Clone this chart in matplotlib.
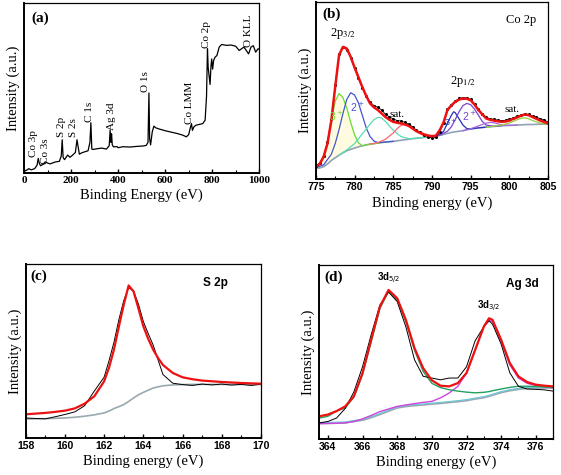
import matplotlib
matplotlib.use("Agg")
import matplotlib.pyplot as plt
from matplotlib.ticker import MultipleLocator

SERIF = "Liberation Serif"
SANS = "Liberation Sans"

# ---------- (a) survey ----------
a_x = [0, 10, 20, 30, 45, 55, 60, 65, 70, 80, 90, 100, 110, 120, 135, 150, 158, 162, 166, 172,
       185, 195, 205, 218, 225, 229, 235, 245, 260, 272, 280, 284, 288, 295, 310, 330, 350,
       362, 366, 369, 372, 375, 380, 395, 400, 420, 450, 480, 505, 520, 527, 531, 534, 538,
       545, 552, 560, 575, 600, 625, 650, 675, 690, 700, 707, 712, 716, 722, 730, 745, 760,
       770, 776, 780, 783, 787, 791, 795, 798, 802, 806, 812, 820, 830, 840, 860, 880, 900,
       915, 925, 935, 945, 955, 965, 975, 985, 995, 1000]
a_y = [1.2, 1.5, 2.5, 1.8, 2.5, 4.5, 8.5, 5.5, 4.2, 5.0, 6.5, 5.8, 5.3, 5.8, 6.5, 6.8, 10, 19.5, 9, 7.8,
       10.5, 9.2, 10.3, 12, 19.5, 16, 11, 11.8, 12.5, 13, 18, 29.5, 14, 13.8, 14.2, 14.6, 14.0,
       16, 25.3, 18, 23, 16.5, 15.3, 15.5, 14.8, 15.4, 15.2, 15.6, 15.8, 16.2, 18, 47, 20, 16.5,
       24, 27.5, 26.5, 25.8, 24.8, 24.0, 23.2, 22.2, 21.2, 22.5, 26.5, 29, 25, 27, 28, 28.5, 29,
       31, 45, 73, 62, 57, 52, 63, 67, 61, 66, 68, 69, 74, 75.5, 75, 75.2, 74.5,
       72, 73, 74, 72, 70, 74, 74.8, 71, 73, 72.7]

a_lbl = ["Co 3p", "Co 3s", "S 2p", "S 2s", "C 1s", "Ag 3d", "O 1s", "Co LMM", "Co 2p", "O KLL"]
a_lbl_x = [42, 90, 157, 212, 279, 372, 516, 703, 776, 953]
a_lbl_y = [9.5, 5.5, 21, 21, 30, 25.5, 47.5, 29, 73.5, 74]

# ---------- (b) Co 2p ----------
b_x = [775, 775.5, 776, 776.5, 777, 777.5, 778, 778.5, 779, 779.5, 780, 780.5, 781, 781.5, 782, 782.5,
       783, 783.5, 784, 784.5, 785, 785.5, 786, 786.5, 787, 787.5, 788, 788.5, 789, 789.5, 790,
       790.5, 791, 791.5, 792, 792.5, 793, 793.5, 794, 794.5, 795, 795.5, 796, 796.5, 797, 797.5,
       798, 798.5, 799, 799.5, 800, 800.5, 801, 801.5, 802, 802.5, 803, 803.5, 804, 804.5, 805]
b_fit = [7, 8.5, 12.6, 20, 33, 52, 70, 74.6, 73.7, 69, 63, 57.5, 52, 47, 42.7, 40.5,
         39, 37, 35, 33.5, 32.3, 31.8, 31.4, 30.8, 30, 28.5, 27, 26, 25.2, 24.6, 24.2,
         24.5, 27.6, 32, 39, 41.5, 43.6, 44.8, 45.5, 45.3, 44.5, 42, 39, 36.5, 34.2, 33.5,
         33, 32.6, 32.3, 32.5, 33, 34, 34.8, 35.8, 36.5, 36, 35, 34, 33, 32.2, 31.4]
b_dat = [7.5, 9, 13, 21, 34, 53, 70.5, 74.5, 73, 68.5, 62.5, 57, 51.5, 47, 43.5, 41.5,
         40.5, 39, 36.5, 35, 34, 33, 32.8, 32, 31, 29.5, 27.5, 26.5, 25, 24, 23,
         23.5, 26.5, 31.5, 39.5, 42, 44, 45.5, 46, 45.8, 45, 42.5, 39.5, 37, 35, 34,
         33.8, 33.2, 33, 33.2, 33.8, 34.5, 35.5, 36, 36.8, 36.5, 35.5, 35, 34, 33.5, 32]
b_bg = [6, 6.3, 7, 8.5, 10.5, 12, 13.5, 14.8, 16, 16.8, 17.5, 18.2, 18.8, 19.3, 19.7, 20,
        20.3, 20.6, 20.9, 21.1, 21.3, 21.6, 21.9, 22.2, 22.5, 22.8, 23, 23.3, 23.5, 23.7, 23.9,
        24.2, 24.6, 25.2, 25.8, 26.3, 26.7, 27, 27.3, 27.8, 28.3, 28.6, 28.9, 29.1, 29.3, 29.5,
        29.7, 29.9, 30.1, 30.2, 30.3, 30.4, 30.5, 30.6, 30.7, 30.8, 30.8, 30.9, 31, 31, 31]

# fitted components of panel (b): x values and y values (background included)
b_g3_x = [775, 775.5, 776, 776.5, 777, 777.5, 778, 778.5, 779, 779.5, 780, 780.5, 781, 782, 783, 784]
b_g3_y = [7, 8.5, 12, 20, 33, 44, 48.3, 46, 40, 32, 25, 20.5, 18.8, 19.7, 20.3, 20.9]
b_g3_base = [6, 6.3, 7, 8.5, 10.5, 12, 13.5, 14.8, 16, 16.8, 17.5, 18.2, 18.8, 19.7, 20.3, 20.9]
b_b2_x = [775, 776, 777, 777.5, 778, 778.5, 779, 779.5, 780, 780.5, 781, 781.5, 782, 782.5, 783, 784, 785]
b_b2_y = [6.5, 8, 14, 20, 28, 37, 45, 48.7, 47.5, 43, 36, 29, 24, 21.5, 20.6, 20.9, 21.3]
b_sat1_x = [778, 779, 780, 781, 782, 782.5, 783, 783.5, 784, 785, 786, 787, 788, 789]
b_sat1_y = [13.5, 16.5, 20, 25.5, 31, 33.5, 34.8, 34.5, 32.5, 27.5, 24, 22.8, 23, 23.5]
b_sat2_x = [782, 783, 784, 785, 785.5, 786, 786.5, 787, 787.5, 788, 789, 790]
b_sat2_y = [19.7, 20.6, 22.5, 26, 28.5, 30.3, 31, 30.5, 29, 27, 24.3, 23.9]
b_b3_x = [790, 791, 791.5, 792, 792.5, 792.8, 793, 793.5, 794, 794.5, 795, 796, 797]
b_b3_y = [23.9, 25, 27, 31.5, 36, 38, 37.5, 34, 30.5, 28.5, 28.3, 28.9, 29.3]
b_p2_x = [790, 791, 792, 792.5, 793, 793.5, 794, 794.5, 795, 795.5, 796, 796.5, 797, 798, 799]
b_p2_y = [23.9, 24.8, 27, 29.5, 33.5, 38, 41.5, 42.7, 42, 39.5, 36, 32.5, 30.5, 29.8, 30.1]
b_p3_x = [794, 795, 796, 797, 797.5, 798, 798.5, 799, 800, 801]
b_p3_y = [27.3, 28.4, 30, 31.6, 32, 31.8, 31.2, 30.6, 30.3, 30.5]
b_gs_x = [797, 798, 799, 800, 801, 801.5, 802, 802.5, 803, 804, 805]
b_gs_y = [29.3, 29.8, 30.5, 31.6, 33.5, 34.3, 34.6, 34, 33, 31.6, 31]

# ---------- (c) S 2p ----------
c_x = [158, 158.5, 159, 159.5, 160, 160.5, 161, 161.5, 162, 162.25, 162.5, 162.75, 163, 163.25,
       163.5, 163.75, 164, 164.25, 164.5, 164.75, 165, 165.5, 166, 166.5, 167, 167.5, 168, 168.5,
       169, 169.5, 170]
c_fit = [13.6, 14, 14.4, 15, 15.7, 17, 19.7, 24, 32.6, 40.5, 50.8, 64, 76.6, 87.7, 84.3, 74.5,
         64.2, 57, 50.8, 46, 42, 37.4, 34.9, 33.8, 33, 32.6, 32.2, 31.9, 31.6, 31.4, 31.2]
c_dat = [11.5, 11.2, 11, 12.2, 13.5, 15, 18.5, 27, 35, 44.5, 55, 68, 79, 86.5, 84.5, 77,
         67, 60, 53.5, 45, 36.5, 31.5, 30.7, 30.2, 31, 30.5, 31, 30.4, 30.8, 30.2, 30.9]
c_bg = [10.9, 11, 11.1, 11.3, 11.5, 11.9, 12.5, 13.3, 14.4, 15.5, 16.9, 18, 19.2, 21, 23, 24.8,
        26.2, 27.5, 28.7, 29.4, 30, 30.5, 30.7, 30.8, 30.8, 30.8, 30.8, 30.8, 30.8, 30.8, 30.8]

# ---------- (d) Ag 3d ----------
d_x = [363.5, 364, 364.5, 365, 365.5, 366, 366.5, 367, 367.5, 368, 368.5, 369, 369.5, 370,
       370.5, 371, 371.5, 372, 372.5, 373, 373.3, 373.5, 374, 374.5, 375, 375.5, 376, 376.5, 377]
d_fit = [13, 14, 16, 18.7, 24.5, 37.9, 57, 76, 85.7, 80.9, 68.5, 52.2, 40.7, 33.7,
         30.6, 30.2, 32.1, 37.9, 51.2, 64.6, 69.4, 68.5, 57, 43.6, 35.9, 32.7, 31.2, 30.6, 30.2]
d_dat = [9.2, 10, 12, 17.5, 27, 41.5, 60, 77, 84.5, 79, 64.5, 45.5, 36, 35,
         34, 35, 35, 41.5, 56.5, 64.5, 68, 66, 54.5, 38, 30.2, 28.7, 28.5, 28.2, 27.5]
d_g5 = [12, 13, 16, 17.8, 24, 37, 56, 75, 84.7, 79.9, 67.5, 51, 38.8, 32,
        29.5, 28.3, 27.5, 26.9, 26.5, 26.8, 27.2, 27.7, 28.7, 29.6, 30.3, 30.3, 30.1, 29.9, 29.6]
d_m3 = [8.8, 8.9, 9, 9.2, 10, 11.5, 13.5, 15.7, 17.2, 18.7, 19.5, 20.3, 21, 21.6,
        23.6, 26.4, 30.2, 37.9, 51.2, 64.6, 68.1, 67.5, 56, 42.6, 35, 32, 30.6, 30, 29.3]
d_bg = [8.8, 8.9, 9, 9.2, 10, 10.7, 12.2, 14, 15.9, 17.8, 18.6, 19.1, 19.5, 20,
        20.4, 20.9, 21.4, 22, 22.9, 23.7, 24.5, 25.1, 26.6, 27.7, 28.5, 29, 29.2, 29.3, 29.3]

fig = plt.figure(figsize=(5.61, 4.75), dpi=100)
ax_a = fig.add_axes([0.043, 0.636, 0.419, 0.358])
ax_b = fig.add_axes([0.563, 0.623, 0.414, 0.373])
ax_c = fig.add_axes([0.046, 0.078, 0.419, 0.366])
ax_d = fig.add_axes([0.569, 0.076, 0.417, 0.366])


def style(ax, xlabel, xlim, major, minor, sans_ticks):
    ax.set_xlim(*xlim)
    ax.set_ylim(0, 100)
    ax.set_yticks([])
    ax.xaxis.set_major_locator(MultipleLocator(major))
    ax.xaxis.set_minor_locator(MultipleLocator(minor))
    ax.tick_params(axis="x", which="major", direction="in", length=3, width=1, pad=2)
    ax.tick_params(axis="x", which="minor", direction="in", length=2, width=0.8)
    ax.tick_params(axis="x", which="both", top=False)
    for s in ax.spines.values():
        s.set_linewidth(0.9)
    ax.spines["bottom"].set_linewidth(1.4)
    ax.spines["left"].set_linewidth(1.4)
    for t in ax.get_xticklabels():
        t.set_fontweight("bold")
        if sans_ticks:
            t.set_fontfamily(SANS)
            t.set_fontsize(7.5)
        else:
            t.set_fontfamily(SERIF)
            t.set_fontsize(8)
    ax.set_xlabel(xlabel, fontfamily=SERIF, fontsize=10.5, labelpad=3)
    ax.set_ylabel("Intensity (a.u.)", fontfamily=SERIF, fontsize=10.5, labelpad=3)


# (a)
ax_a.plot(a_x, a_y, color="black", lw=0.9)
for lbl, x, y in zip(a_lbl, a_lbl_x, a_lbl_y):
    ax_a.text(x, y, lbl, rotation=90, ha="center", va="bottom", fontfamily=SERIF, fontsize=8)
style(ax_a, "Binding Energy (eV)", (0, 1000), 200, 100, False)
ax_a.text(0.03, 0.95, "(a)", transform=ax_a.transAxes, ha="left", va="top",
          fontfamily=SERIF, fontweight="bold", fontsize=11)

# (b)
ax_b.fill_between(b_g3_x, b_g3_y, b_g3_base, color="#fffbe0", lw=0)
ax_b.plot(b_x, b_bg, color="#8fa2b8", lw=1.2)
ax_b.plot(b_g3_x, b_g3_y, color="#66dd33", lw=0.9)
ax_b.plot(b_b2_x, b_b2_y, color="#4455cc", lw=0.9)
ax_b.plot(b_sat1_x, b_sat1_y, color="#55e0b0", lw=0.9)
ax_b.plot(b_sat2_x, b_sat2_y, color="#ff6677", lw=0.9)
ax_b.plot(b_b3_x, b_b3_y, color="#2233bb", lw=0.9)
ax_b.plot(b_p2_x, b_p2_y, color="#7744cc", lw=0.9)
ax_b.plot(b_p3_x, b_p3_y, color="#aa66dd", lw=0.9)
ax_b.plot(b_gs_x, b_gs_y, color="#99cc44", lw=0.9)
ax_b.plot(b_x, b_dat, color="black", lw=0.6, marker="o", ms=1.2)
ax_b.plot(b_x, b_fit, color="#ee1111", lw=1.8)
style(ax_b, "Binding energy (eV)", (775, 805), 5, 2.5, True)
ax_b.text(0.03, 0.97, "(b)", transform=ax_b.transAxes, ha="left", va="top",
          fontfamily=SERIF, fontweight="bold", fontsize=11)
ax_b.text(0.95, 0.9, "Co 2p", transform=ax_b.transAxes, ha="right", va="center",
          fontfamily=SERIF, fontsize=9)
ax_b.text(778.5, 78, "2p$_{3/2}$", ha="center", va="bottom", fontfamily=SERIF, fontsize=9,
          math_fontfamily="stix")
ax_b.text(794, 51, "2p$_{1/2}$", ha="center", va="bottom", fontfamily=SERIF, fontsize=9,
          math_fontfamily="stix")
ax_b.text(785.5, 34, "sat.", ha="center", va="bottom", fontfamily=SERIF, fontsize=8)
ax_b.text(800.3, 37, "sat.", ha="center", va="bottom", fontfamily=SERIF, fontsize=8)
ax_b.text(777.7, 33, "3$^+$", color="#66dd33", ha="center", fontsize=7.5, fontfamily=SANS)
ax_b.text(780.3, 38, "2$^+$", color="#4455cc", ha="center", fontsize=7.5, fontfamily=SANS)
ax_b.text(792.4, 30, "3$^+$", color="#2233bb", ha="center", fontsize=6.5, fontfamily=SANS)
ax_b.text(794.8, 33, "2$^+$", color="#7744cc", ha="center", fontsize=7.5, fontfamily=SANS)

# (c)
ax_c.plot(c_x, c_bg, color="#9aa8b0", lw=1.2)
ax_c.plot(c_x, c_dat, color="black", lw=0.7)
ax_c.plot(c_x, c_fit, color="#ee1111", lw=1.6)
style(ax_c, "Binding energy (eV)", (158, 170), 2, 1, True)
ax_c.text(0.02, 0.97, "(c)", transform=ax_c.transAxes, ha="left", va="top",
          fontfamily=SERIF, fontweight="bold", fontsize=11)
ax_c.text(0.86, 0.89, "S 2p", transform=ax_c.transAxes, ha="right", va="center",
          fontfamily=SANS, fontweight="bold", fontsize=8.5)

# (d)
ax_d.plot(d_x, d_bg, color="#9aa8b0", lw=1.2)
ax_d.plot(d_x, [v + 0.6 for v in d_bg], color="#66c6d8", lw=0.8)
ax_d.plot(d_x, d_m3, color="#cc44dd", lw=1.0)
ax_d.plot(d_x, d_g5, color="#22a060", lw=1.0)
ax_d.plot(d_x, d_dat, color="black", lw=0.7)
ax_d.plot(d_x, d_fit, color="#ee1111", lw=1.6)
style(ax_d, "Binding energy (eV)", (363.5, 377), 2, 1, True)
ax_d.text(0.02, 0.97, "(d)", transform=ax_d.transAxes, ha="left", va="top",
          fontfamily=SERIF, fontweight="bold", fontsize=11)
ax_d.text(0.94, 0.89, "Ag 3d", transform=ax_d.transAxes, ha="right", va="center",
          fontfamily=SANS, fontweight="bold", fontsize=8.5)
ax_d.text(367.5, 88, "3d$_{5/2}$", ha="center", va="bottom", fontfamily=SANS, fontweight="bold",
          fontsize=7)
ax_d.text(373.3, 72, "3d$_{3/2}$", ha="center", va="bottom", fontfamily=SANS, fontweight="bold",
          fontsize=7)

fig.savefig("out.png", dpi=100)
